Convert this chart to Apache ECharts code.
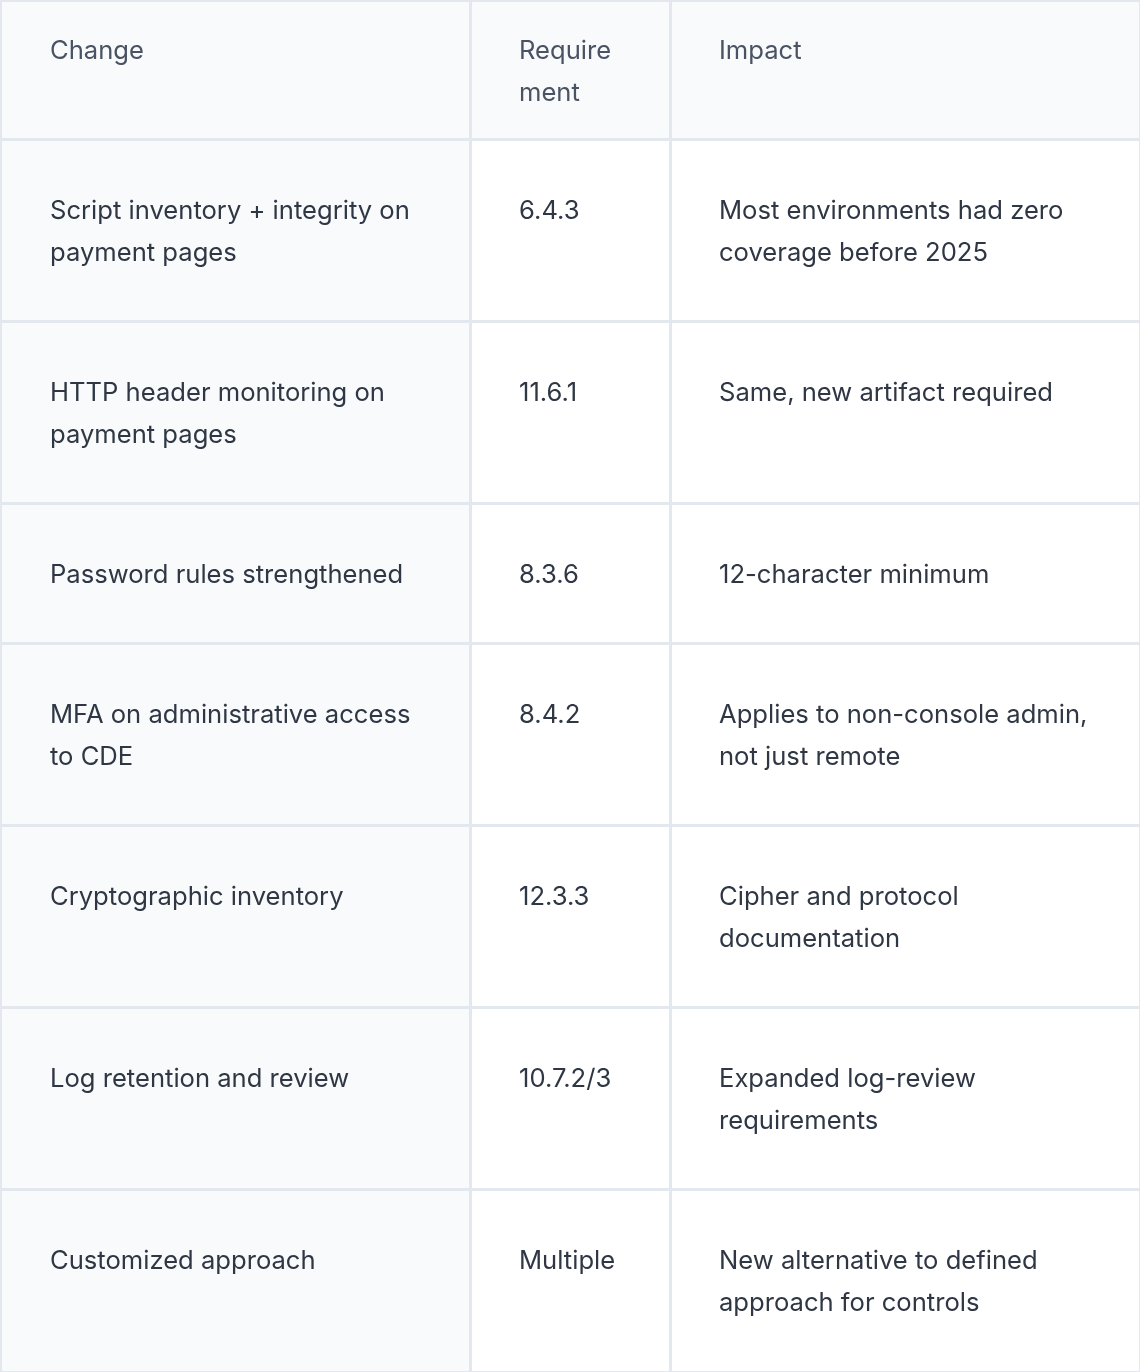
<!DOCTYPE html>
<html>
<head>
<meta charset="utf-8">
<script src="https://cdn.jsdelivr.net/npm/echarts@6/dist/echarts.min.js"></script>
<style>
  html, body { margin: 0; padding: 0; background: #fff; }
  #main { width: 1140px; height: 1372px; }
</style>
</head>
<body>
<div id="main"></div>
<script>
// table data
var headers = ['Change', 'Require\nment', 'Impact'];
var changes = [
  'Script inventory + integrity on\npayment pages',
  'HTTP header monitoring on\npayment pages',
  'Password rules strengthened',
  'MFA on administrative access\nto CDE',
  'Cryptographic inventory',
  'Log retention and review',
  'Customized approach'
];
var requirements = ['6.4.3', '11.6.1', '8.3.6', '8.4.2', '12.3.3', '10.7.2/3', 'Multiple'];
var impacts = [
  'Most environments had zero\ncoverage before 2025',
  'Same, new artifact required',
  '12-character minimum',
  'Applies to non-console admin,\nnot just remote',
  'Cipher and protocol\ndocumentation',
  'Expanded log-review\nrequirements',
  'New alternative to defined\napproach for controls'
];

// layout
var colX = [0, 470, 670, 1140];
var rowY = [0, 139, 321, 503, 643, 825, 1007, 1189, 1372];

var chart = echarts.init(document.getElementById('main'));

var cells = [];
for (var r = 0; r < changes.length + 1; r++) {
  var rowVals = r === 0 ? headers : [changes[r - 1], requirements[r - 1], impacts[r - 1]];
  for (var c = 0; c < 3; c++) {
    cells.push([r, c, rowVals[c]]);
  }
}

function renderCell(params, api) {
  var r = api.value(0), c = api.value(1);
  var text = cells[params.dataIndex][2];
  var x0 = colX[c], x1 = colX[c + 1], y0 = rowY[r], y1 = rowY[r + 1];
  var fill = (r === 0 || c === 0) ? '#f8fafc' : '#ffffff';
  return {
    type: 'group',
    children: [{
      type: 'rect',
      shape: { x: x0 + 1, y: y0 + 1, width: x1 - x0 - 1, height: y1 - y0 - 1 },
      style: { fill: fill, stroke: '#e3e8ee', lineWidth: 2 }
    }, {
      type: 'text',
      x: x0 + (c === 0 ? 50 : 49),
      y: y0 + (r === 0 ? 30 : 51),
      style: {
        text: text,
        fill: r === 0 ? '#4a5363' : '#2f3744',
        font: '25.6px Inter, "Noto Sans", sans-serif',
        lineHeight: 42,
        verticalAlign: 'top'
      }
    }]
  };
}

chart.setOption({
  animation: false,
  series: [{
    type: 'custom',
    coordinateSystem: 'none',
    renderItem: renderCell,
    data: cells.map(function (d) { return [d[0], d[1]]; })
  }]
});
</script>
</body>
</html>
